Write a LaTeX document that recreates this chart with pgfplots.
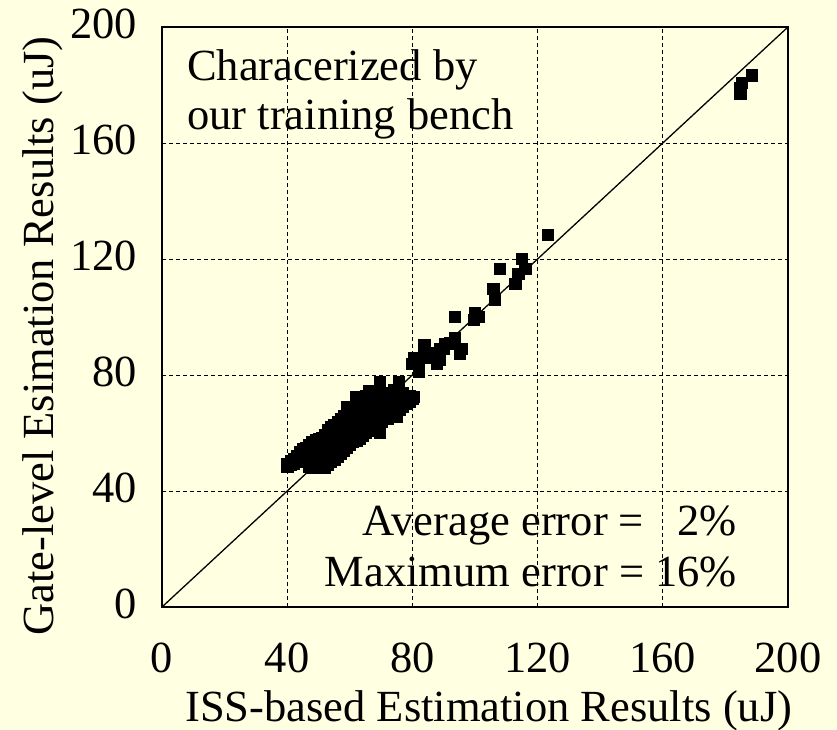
\documentclass[border=0pt]{standalone}
\usepackage{fontspec}
\setmainfont{Liberation Serif}
\usepackage{pgfplots}
\pgfplotsset{compat=1.18}
\definecolor{bg}{RGB}{255,255,225}
\newcommand{\bigf}{\fontsize{44.5bp}{50bp}\selectfont}
\begin{document}
\begin{tikzpicture}
\useasboundingbox (0,0) rectangle (837bp,730bp);
\fill[bg] (0,0) rectangle (837bp,730bp);
\begin{axis}[
  at={(162bp,123bp)}, anchor=south west,
  scale only axis, width=626bp, height=580bp,
  xmin=0, xmax=200, ymin=0, ymax=200,
  xtick={0,40,...,200}, ytick={0,40,...,200},
  major tick length=0pt,
  grid=major,
  major grid style={black, line width=0.9bp, dash pattern=on 4bp off 3bp},
  axis line style={line width=1.8bp},
  axis background/.style={fill=bg},
  /pgf/number format/assume math mode=true,
  tick label style={font=\bigf, inner sep=0pt},
  xticklabel style={anchor=north, yshift=-36bp},
  yticklabel style={anchor=east, xshift=-25bp, yshift=3bp},
  xlabel={ISS-based Estimation Results (uJ)},
  ylabel={Gate-level Esimation Results (uJ)},
  label style={font=\bigf, inner sep=0pt},
  xlabel style={at={(axis description cs:0.522,-0.198)}, anchor=base},
  ylabel style={at={(axis description cs:-0.174,0.467)}, anchor=base, rotate=0},
  clip=false,
]
\addplot[black, line width=1.3bp] coordinates {(0,0) (200,200)};
\addplot[only marks, mark=square*, mark size=5.6bp, mark options={fill=black, draw=black, line width=0.3bp}] coordinates {
(40,48.5) (40,49.5) (41,49) (41,50.5) (42,49.5) (42,51) (43,50) (43,52)
(44,50.5) (44,52.5) (44,53.5) (45,51) (45,53) (45,54.5) (46,51.5) (46,54) (46,55)
(47,48.5) (47,50) (47,52) (47,54) (47,56)
(48,48) (48,50) (48,52) (48,55) (48,57)
(49,48.5) (49,51) (49,53) (49,56) (49,57.5)
(50,48) (50,50) (50,52.5) (50,54) (50,57) (50,58)
(51,48.5) (51,51) (51,53) (51,56) (51,58.5)
(52,48) (52,50) (52,52) (52,55) (52,57) (52,59.5)
(53,49) (53,51) (53,54) (53,56) (53,59) (53,61)
(54,50) (54,52.5) (54,55) (54,58) (54,60) (54,62)
(55,51) (55,53) (55,56) (55,59) (55,61) (55,63)
(56,52) (56,54) (56,57) (56,60) (56,62) (56,64)
(57,53) (57,55) (57,58) (57,61) (57,63) (57,65)
(58,54) (58,56) (58,59) (58,62) (58,64) (58,66)
(59,55) (59,57) (59,60) (59,63) (59,66) (59,69)
(60,56) (60,58) (60,61) (60,64) (60,67)
(61,57) (61,59) (61,62) (61,65) (61,68)
(62,57.5) (62,60) (62,63) (62,66) (62,70) (62,72.5)
(63,58) (63,61) (63,64) (63,67) (63,70)
(64,59) (64,62) (64,65) (64,68) (64,71)
(65,60) (65,63) (65,66) (65,69) (65,73)
(66,61) (66,64) (66,67) (66,70) (66,74.5)
(67,62) (67,65) (67,68) (67,71)
(68,62) (68,66) (68,69) (68,72)
(69,63) (69,67) (69,70) (69,73) (69.6,77.6) (69.6,60)
(70,64) (70,68) (70,71) (70,74)
(71,65) (71,68) (71,72)
(72,65) (72,69) (72,72) (72,74)
(73,66) (73,70) (73,73)
(74,67) (74,70) (74,73) (74,75)
(75,65.5) (75,68) (75,71) (75,74) (75.5,77.6)
(76,68) (76,71) (76,73)
(77,69) (77,72) (77,74)
(78,70) (78,72) (79,71) (79,73) (80,72) (80.3,72.5)
(79.8,84) (80.3,85.8) (81.4,85.2) (81.9,81.1) (82,83)
(83.5,90.3) (84,90.3) (84.6,87.5) (84,86) (86,87.5)
(87.8,84) (88.8,85.2) (88.8,89.2) (90,89) (90.4,90.9) (92,91)
(93.6,92.7) (95.7,89.2) (95.2,87.5) (93.6,100.1)
(99.5,99) (100,101.3) (101,100)
(106.4,105.9) (105.8,109.9) (108,116.8)
(112.8,111.6) (113.8,115) (116,116.8) (114.9,120.2)
(123.3,128.3)
(184.7,177.2) (184.7,178.9) (185.2,180.7) (188.4,183.4)
};
\node[font=\bigf, anchor=base west, inner sep=0pt] at (axis cs:8,181.7) {Characerized by};
\node[font=\bigf, anchor=base west, inner sep=0pt] at (axis cs:8,164.5) {our training bench};
\node[font=\bigf, anchor=base east, inner sep=0pt] at (axis cs:183.7,24.8) {Average error = \phantom{1}2\%};
\node[font=\bigf, anchor=base east, inner sep=0pt] at (axis cs:183.7,6.9) {Maximum error = 16\%};
\end{axis}
\end{tikzpicture}
\end{document}
